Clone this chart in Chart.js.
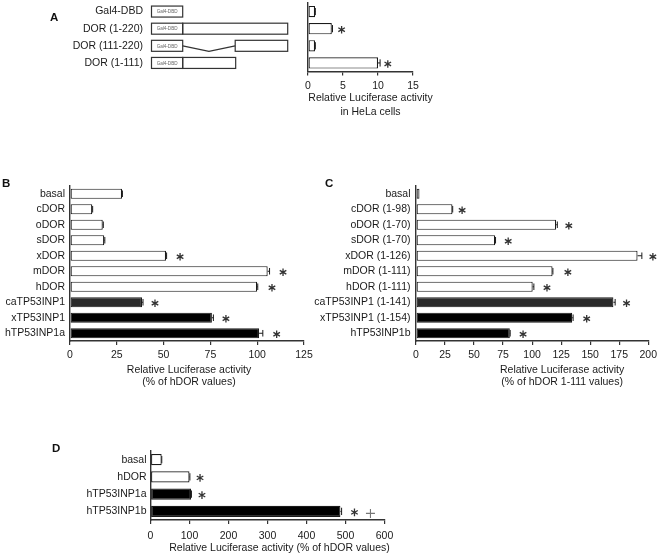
<!DOCTYPE html>
<html><head><meta charset="utf-8">
<script src="https://cdn.jsdelivr.net/npm/chart.js@4.4.0/dist/chart.umd.min.js"></script>
<style>
html,body{margin:0;padding:0;background:#fff;}
#wrap{position:relative;width:661px;height:558px;overflow:hidden;font-family:"Liberation Sans",Arial,sans-serif;}
canvas{position:absolute;}
.lbl{position:absolute;font-weight:bold;font-size:11.5px;line-height:11px;color:#111;}
</style></head><body>
<div id="wrap">
  <canvas id="chartA" width="440" height="130" style="left:0;top:0"></canvas>
  <canvas id="chartB" width="330" height="225" style="left:0;top:175px"></canvas>
  <canvas id="chartC" width="361" height="225" style="left:300px;top:175px"></canvas>
  <canvas id="chartD" width="460" height="118" style="left:0;top:440px"></canvas>
  <div class="lbl" style="left:50px;top:12px">A</div>
  <div class="lbl" style="left:2px;top:178px">B</div>
  <div class="lbl" style="left:325px;top:178px">C</div>
  <div class="lbl" style="left:52px;top:443px">D</div>
</div>
<script>
// panel A: Gal4-DBD fusions in HeLa cells
const labelsA = ['Gal4-DBD','DOR (1-220)','DOR (111-220)','DOR (1-111)'];
const valuesA = [1.0, 3.4, 1.0, 10.0];
const errorsA = [0.05, 0.1, 0.05, 0.3];
const starsA  = [null, 4.8, null, 11.4];
const constructsA = [null, [1,220], [111,220], [1,111]]; // DOR residues fused to Gal4-DBD
const ticksA = [0,5,10,15];

// panel B
const labelsB = ['basal','cDOR','oDOR','sDOR','xDOR','mDOR','hDOR','caTP53INP1','xTP53INP1','hTP53INP1a'];
const valuesB = [27.8, 11.9, 17.5, 18.3, 51.3, 105.6, 100, 38.5, 75.8, 101];
const errorsB = [0.2, 0.2, 0.3, 0.3, 0.3, 1.0, 0.3, 0.5, 0.8, 2.0];
const starsB  = [null, null, null, null, 58.8, 113.8, 107.9, 45.4, 83.3, 110.4];
const ticksB = [0,25,50,75,100,125];

// panel C
const labelsC = ['basal','cDOR (1-98)','oDOR (1-70)','sDOR (1-70)','xDOR (1-126)','mDOR (1-111)','hDOR (1-111)','caTP53INP1 (1-141)','xTP53INP1 (1-154)','hTP53INP1b'];
const valuesC = [3, 31.4, 120.7, 68.2, 190.8, 117.6, 100.5, 170, 134.5, 80.8];
const errorsC = [0, 0.2, 1.0, 0.3, 3.7, 0.3, 1.0, 1.5, 0.8, 0.3];
const starsC  = [null, 39.7, 131.6, 79.4, 204, 130.8, 112.8, 181.3, 147, 92.2];
const ticksC = [0,25,50,75,100,125,150,175,200];

// panel D
const labelsD = ['basal','hDOR','hTP53INP1a','hTP53INP1b'];
const valuesD = [28.6, 100, 104, 487];
const errorsD = [0.3, 1.0, 1.0, 3.0];
const starsD  = [null, 127, 132, 523];
const plusD   = [null, null, null, 564];
const ticksD = [0,100,200,300,400,500,600];

const FONT = {family:'"Liberation Sans", Arial, sans-serif', size:10.5};
const INK = '#1a1a1a';

function fillFor(l){
  if(!/TP53INP1/.test(l)) return '#ffffff';
  return l.startsWith('ca') ? '#2a2a2a' : '#000000';
}

function star(ctx, x, y, r){
  ctx.beginPath();
  for(const a of [90, 30, 150]){
    const t = a*Math.PI/180;
    ctx.moveTo(x - r*Math.cos(t), y - r*Math.sin(t));
    ctx.lineTo(x + r*Math.cos(t), y + r*Math.sin(t));
  }
  ctx.stroke();
}

const marks = {
  id:'marks',
  afterDatasetsDraw(chart, args, opts){
    const {ctx, scales:{x}} = chart;
    const ds = chart.data.datasets[0];
    const meta = chart.getDatasetMeta(0);
    ctx.save();
    ds.data.forEach((v,i)=>{
      const bar = meta.data[i];
      const cy = bar.y, h = bar.height;
      const e = ds.errors ? ds.errors[i] : 0;
      if(e){
        const x0 = x.getPixelForValue(v), x1 = x.getPixelForValue(v+e);
        ctx.strokeStyle = INK; ctx.lineWidth = 1;
        ctx.beginPath(); ctx.moveTo(x0,cy); ctx.lineTo(x1,cy);
        ctx.moveTo(x1,cy-h*0.32); ctx.lineTo(x1,cy+h*0.32); ctx.stroke();
      }
      const s = ds.stars ? ds.stars[i] : null;
      if(s!=null){ ctx.strokeStyle='#333'; ctx.lineWidth=1.3; star(ctx, x.getPixelForValue(s), cy+1, 3.8); }
      const p = ds.plus ? ds.plus[i] : null;
      if(p!=null){
        const px = x.getPixelForValue(p);
        ctx.strokeStyle='#777'; ctx.lineWidth=1.1;
        ctx.beginPath(); ctx.moveTo(px-4.5,cy+2); ctx.lineTo(px+4.5,cy+2);
        ctx.moveTo(px,cy-2.5); ctx.lineTo(px,cy+6.5); ctx.stroke();
      }
    });
    // axis title, centred a little right of the plot like the figure
    if(opts.title){
      const cx = (chart.chartArea.left + chart.chartArea.right)/2 + opts.dx;
      ctx.fillStyle = INK; ctx.textAlign='center'; ctx.textBaseline='middle';
      ctx.font = FONT.size + 'px ' + FONT.family;
      opts.title.forEach((t,k)=> ctx.fillText(t, cx, opts.ty + k*opts.lh));
    }
    ctx.restore();
  }
};

// row labels and Gal4-DBD fusion constructs for panel A
const schematic = {
  id:'schematic',
  afterDraw(chart){
    const {ctx, scales:{y}} = chart;
    const gx = 151.5, gw = 31.2, bh = 11, k = 105/220;
    ctx.save();
    ctx.strokeStyle = '#333'; ctx.lineWidth = 1.2;
    constructsA.forEach((c,i)=>{
      const cy = y.getPixelForValue(i);
      ctx.fillStyle=INK; ctx.font=FONT.size+'px '+FONT.family; ctx.textAlign='right'; ctx.textBaseline='middle';
      ctx.fillText(chart.data.labels[i], 143, cy);
      ctx.strokeRect(gx, cy-bh/2, gw, bh);
      ctx.fillStyle='#666'; ctx.font='4.6px '+FONT.family; ctx.textAlign='center';
      ctx.fillText('Gal4-DBD', gx+gw/2, cy+0.5);
      if(!c) return;
      const x0 = gx+gw, xa = x0+(c[0]-1)*k, xb = x0+c[1]*k;
      if(c[0]>1){
        ctx.beginPath(); ctx.moveTo(x0,cy); ctx.lineTo((x0+xa)/2, cy+bh/2); ctx.lineTo(xa,cy); ctx.stroke();
      }
      ctx.strokeRect(xa, cy-bh/2, xb-xa, bh);
    });
    ctx.restore();
  }
};

function barChart(id, o){
  return new Chart(document.getElementById(id), {
    type:'bar',
    data:{ labels:o.labels, datasets:[{
      data:o.values, errors:o.errors, stars:o.stars, plus:o.plus,
      backgroundColor:o.labels.map(fillFor), borderColor:INK, borderWidth:1.2, borderSkipped:false,
      barPercentage:0.66, categoryPercentage:1
    }]},
    options:{
      indexAxis:'y', responsive:false, animation:false, events:[],
      layout:{padding:o.pad},
      plugins:{legend:{display:false}, tooltip:{enabled:false}, marks:{title:o.title, dx:o.dx, ty:o.ty, lh:o.lh || 12.4}},
      scales:{
        x:{ min:0, max:o.ticks[o.ticks.length-1],
            afterBuildTicks:s=>{ s.ticks = o.ticks.map(v=>({value:v})); },
            grid:{drawOnChartArea:false, tickLength:4, color:'#333', lineWidth:1.2},
            border:{color:'#333', width:1.4},
            ticks:{color:INK, font:FONT, padding:o.xpad || 4, maxRotation:0, autoSkip:false},
            afterFit:s=>{ s.height = o.xh; } },
        y:{ grid:{display:false, drawTicks:false},
            border:{color:'#333', width:1.4},
            ticks:{display:!o.hideY, color:INK, font:{...FONT, lineHeight:1}, padding:o.ypad, autoSkip:false},
            afterFit:s=>{ s.width = o.yw; } }
      }
    },
    plugins:o.extra ? [marks, o.extra] : [marks]
  });
}

barChart('chartA', {labels:labelsA, values:valuesA, errors:errorsA, stars:starsA, ticks:ticksA, hideY:true,
  pad:{top:3,right:27,bottom:0,left:0}, yw:308, ypad:0, xh:58.5,
  title:['Relative Luciferase activity','in HeLa cells'], dx:10, ty:98.5, lh:13.5, extra:schematic});
barChart('chartB', {labels:labelsB, values:valuesB, errors:errorsB, stars:starsB, ticks:ticksB,
  pad:{top:11,right:26,bottom:0,left:0}, yw:70, ypad:5, xh:59,
  title:['Relative Luciferase activity','(% of hDOR values)'], dx:2, ty:195});
barChart('chartC', {labels:labelsC, values:valuesC, errors:errorsC, stars:starsC, ticks:ticksC,
  pad:{top:11,right:11.7,bottom:0,left:0}, yw:116, ypad:5.5, xh:59,
  title:['Relative Luciferase activity','(% of hDOR 1-111 values)'], dx:30, ty:195});
barChart('chartD', {labels:labelsD, values:valuesD, errors:errorsD, stars:starsD, plus:plusD, ticks:ticksD,
  pad:{top:11,right:75.5,bottom:0,left:0}, yw:150.5, ypad:4, xh:38, xpad:6,
  title:['Relative Luciferase activity (% of hDOR values)'], dx:12, ty:108.5});
</script>
</body></html>
